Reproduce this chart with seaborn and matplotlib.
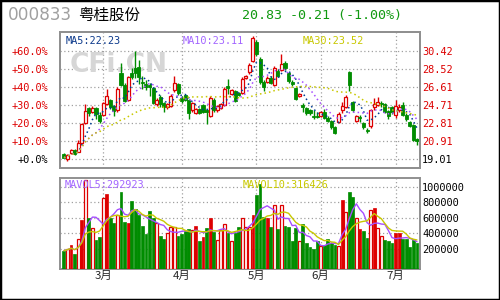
import numpy as np
import pandas as pd
import matplotlib
matplotlib.use('Agg')
import matplotlib.pyplot as plt
import seaborn as sns
from matplotlib.patches import Rectangle

sns.set_theme(style='white')
plt.rcParams['font.family'] = ['DejaVu Sans', 'Noto Sans CJK SC']

# ---------------- data ----------------
stock_code = '000833'
stock_name = '粤桂股份'
quote_text = '20.83 -0.21 (-1.00%)'
ma_texts = ['MA5:22.23', 'MA10:23.11', 'MA30:23.52']
vol_texts = ['MAVOL5:292923', 'MAVOL10:316426']
base_price = 19.01
pct_ticks = [0, 10, 20, 30, 40, 50, 60]
vol_ticks = [200000, 400000, 600000, 800000, 1000000]
month_names = ['3月', '4月', '5月', '6月', '7月']
month_days = [11, 22, 21, 18, 21, 7]

opens = [19.54, 19.01, 19.64, 19.96, 19.75, 20.70, 22.81, 24.40, 23.97, 24.40,
         23.66, 23.66, 24.82, 25.24, 24.61, 24.18, 28.09, 26.83, 25.24, 28.09,
         28.62, 28.73, 27.14, 26.93, 26.83, 26.51, 24.82, 25.56, 24.92, 24.50,
         24.61, 26.30, 26.93, 25.45, 25.77, 25.24, 24.18, 23.87, 24.29, 24.71,
         24.18, 23.55, 25.24, 24.18, 24.40, 24.71, 26.72, 25.87, 26.19, 25.98,
         25.98, 27.56, 28.20, 29.36, 31.37, 29.57, 27.14, 27.14, 27.56, 26.83,
         28.30, 28.41, 29.15, 28.09, 27.14, 26.51, 25.66, 24.71, 24.40, 24.18,
         23.55, 23.55, 23.55, 23.97, 23.34, 23.02, 22.39, 22.92, 24.18, 24.50,
         28.20, 25.03, 23.02, 23.45, 22.81, 22.07, 22.49, 24.50, 24.71, 24.92,
         24.82, 24.08, 24.50, 23.66, 24.18, 24.71, 23.66, 22.92, 22.60, 21.10]
closes = [19.12, 19.43, 19.90, 19.54, 20.70, 22.70, 24.08, 23.87, 24.40, 23.76,
          23.02, 24.92, 25.66, 24.50, 24.08, 26.40, 26.83, 25.14, 27.67, 27.67,
          28.09, 27.67, 27.04, 26.61, 26.61, 24.92, 25.24, 24.82, 24.50, 24.82,
          25.66, 27.04, 25.98, 25.14, 25.24, 23.87, 24.92, 24.29, 23.87, 23.97,
          23.97, 25.45, 24.18, 24.61, 24.82, 26.40, 26.51, 26.30, 25.14, 25.77,
          27.46, 27.78, 28.94, 31.79, 30.10, 27.14, 26.61, 27.56, 27.04, 28.62,
          27.78, 29.04, 28.62, 27.25, 26.93, 25.35, 25.87, 24.50, 23.87, 23.87,
          23.45, 23.45, 23.97, 23.34, 23.02, 22.39, 21.76, 23.76, 24.61, 25.56,
          26.83, 24.18, 23.55, 23.34, 22.39, 21.97, 24.18, 24.82, 25.03, 24.82,
          24.00, 23.50, 23.90, 24.60, 24.50, 23.66, 23.20, 22.50, 21.04, 20.83]
highs = [19.62, 19.50, 20.00, 20.05, 21.00, 22.80, 24.80, 24.50, 24.60, 24.50,
         23.90, 25.00, 26.40, 25.30, 24.70, 26.60, 29.15, 27.00, 27.80, 28.60,
         30.42, 29.40, 27.80, 27.30, 27.00, 26.60, 25.40, 25.70, 25.00, 24.90,
         25.80, 27.70, 27.00, 25.60, 25.90, 25.30, 25.00, 24.40, 24.40, 24.80,
         24.30, 25.60, 25.40, 24.70, 24.90, 26.60, 27.40, 26.40, 26.30, 26.10,
         27.60, 27.90, 29.10, 32.00, 31.60, 29.80, 27.30, 27.70, 27.70, 28.80,
         28.50, 30.10, 29.30, 28.20, 27.30, 26.60, 26.00, 24.90, 24.50, 24.30,
         24.20, 24.00, 24.10, 24.30, 23.50, 23.10, 22.50, 23.90, 25.00, 25.70,
         28.30, 25.10, 23.60, 23.60, 22.90, 22.30, 24.30, 25.40, 25.50, 25.10,
         24.90, 24.20, 24.60, 25.20, 24.80, 25.00, 23.80, 23.00, 22.70, 21.20]
lows = [19.05, 18.80, 19.55, 19.45, 19.70, 20.60, 22.70, 23.50, 23.80, 23.20,
        22.80, 23.50, 24.70, 24.30, 23.50, 24.00, 26.70, 25.00, 25.10, 27.40,
        27.50, 26.90, 26.40, 26.30, 25.60, 24.80, 24.60, 24.50, 24.00, 24.30,
        24.50, 26.10, 25.70, 24.90, 25.10, 23.23, 24.00, 23.70, 23.70, 23.80,
        22.71, 23.40, 24.00, 24.00, 24.30, 24.60, 25.90, 25.70, 25.00, 25.60,
        25.90, 27.40, 28.00, 29.20, 29.90, 26.90, 26.20, 27.00, 26.90, 26.70,
        27.60, 28.30, 28.40, 27.00, 26.70, 25.20, 25.50, 24.00, 23.60, 23.60,
        23.20, 23.30, 23.40, 23.20, 22.90, 22.20, 21.60, 22.80, 23.80, 24.40,
        26.20, 24.00, 22.90, 22.90, 22.20, 21.70, 22.30, 24.20, 24.60, 24.50,
        23.80, 23.20, 23.70, 23.30, 24.00, 23.50, 23.00, 22.40, 20.90, 20.50]
volumes = [175, 200, 242, 133, 327, 568, 1080, 593, 471, 314,
           357, 852, 907, 598, 526, 632, 928, 547, 526, 810,
           716, 640, 496, 386, 683, 598, 526, 369, 327, 399,
           483, 483, 369, 386, 428, 450, 441, 496, 301, 357,
           471, 598, 420, 314, 441, 513, 399, 293, 407, 483,
           590, 483, 483, 632, 894, 1034, 610, 598, 483, 759,
           454, 759, 496, 483, 301, 471, 293, 513, 272, 217,
           200, 293, 230, 251, 327, 272, 251, 230, 822, 674,
           937, 865, 598, 454, 428, 335, 695, 725, 471, 365,
           314, 293, 272, 400, 400, 327, 320, 220, 314, 270]  # thousand shares
vol_kind = ('ghfghfhghgghfgghggfggggggghgghhhgggghfgfgfghhhghgg'
            'hhhfgggfghghgggghggggghgggghfhgghfgghfhhgggffggggg')

# ---------------- derived ----------------
n = len(closes)
df = pd.DataFrame({'i': np.arange(n), 'open': opens, 'close': closes,
                   'high': highs, 'low': lows,
                   'vol': np.array(volumes) * 1000.0, 'kind': list(vol_kind)})
for w in (5, 10, 30):
    df[f'ma{w}'] = df['close'].rolling(w, min_periods=1).mean()
for w in (5, 10):
    df[f'mv{w}'] = df['vol'].rolling(w, min_periods=1).mean()
month_starts = list(np.cumsum(month_days)[:-1])

RED = '#dd0000'
GREEN = '#008c00'
GRID = '#a0a0a0'
SPINE = '#909090'
DOT = (0, (1, 2))

fig = plt.figure(figsize=(5, 3), dpi=100)
fig.patch.set_facecolor('white')
ax = fig.add_axes([0.12, 0.441, 0.72, 0.4533])
axv = fig.add_axes([0.12, 0.1033, 0.72, 0.3023])

xlim = (-1.1, n - 0.15)

# ---- price panel ----
bw = 0.86
for r in df.itertuples():
    lo_b, hi_b = min(r.open, r.close), max(r.open, r.close)
    h = max(hi_b - lo_b, 0.04)
    if r.close > r.open:
        ax.vlines(r.i, r.low, lo_b, color=RED, lw=1, zorder=3)
        ax.vlines(r.i, hi_b, r.high, color=RED, lw=1, zorder=3)
        ax.add_patch(Rectangle((r.i - bw / 2, lo_b), bw, h, facecolor='white',
                               edgecolor=RED, lw=0.9, zorder=4))
    else:
        ax.vlines(r.i, r.low, r.high, color=GREEN, lw=1, zorder=3)
        ax.add_patch(Rectangle((r.i - bw / 2, lo_b), bw, h, facecolor=GREEN,
                               edgecolor=GREEN, lw=0.6, zorder=4))

sns.lineplot(data=df, x='i', y='ma5', ax=ax, color='#003c96', lw=1.1,
             linestyle=DOT, legend=False, zorder=5)
sns.lineplot(data=df, x='i', y='ma10', ax=ax, color='#a64dff', lw=1.1,
             linestyle=DOT, legend=False, zorder=5)
sns.lineplot(data=df, x='i', y='ma30', ax=ax, color='#c8c800', lw=1.1,
             linestyle=DOT, legend=False, zorder=5)

ticks = [round(base_price * (1 + p / 100), 2) for p in pct_ticks]
step = ticks[1] - ticks[0]
ax.set_xlim(*xlim)
ax.set_ylim(base_price - 0.5 * step, ticks[-1] + 1.06 * step)
ax.set_yticks(ticks)
ax.set_yticklabels([f'+{p:.1f}%' for p in pct_ticks], family='DejaVu Sans Mono',
                   fontsize=7.4)
for lab, p in zip(ax.get_yticklabels(), pct_ticks):
    lab.set_color('black' if p == 0 else RED)
ax.tick_params(axis='y', length=0, pad=8.5)
ax.set_xticks(month_starts)
ax.tick_params(axis='x', length=0, labelbottom=False)
ax.grid(True, color=GRID, linestyle=DOT, lw=0.9)
ax.set_xlabel('')
ax.set_ylabel('')

ax2 = ax.twinx()
ax2.set_ylim(ax.get_ylim())
ax2.set_yticks(ticks)
ax2.set_yticklabels([f'{t:.2f}' for t in ticks], family='DejaVu Sans Mono',
                    fontsize=7.4)
for lab, t in zip(ax2.get_yticklabels(), ticks):
    lab.set_color('black' if t == ticks[0] else RED)
ax2.tick_params(axis='y', length=0, pad=1.5)
ax2.grid(False)

# ---- volume panel ----
vb = -62000
for r in df.itertuples():
    if r.kind == 'g':
        axv.bar(r.i, r.vol - vb, bottom=vb, width=0.8, color=GREEN,
                edgecolor=GREEN, lw=0.5, zorder=3)
    elif r.kind == 'f':
        axv.bar(r.i, r.vol - vb, bottom=vb, width=0.8, color=RED,
                edgecolor=RED, lw=0.5, zorder=3)
    else:
        axv.bar(r.i, r.vol - vb, bottom=vb, width=0.8, color='white',
                edgecolor=RED, lw=0.9, zorder=3)
sns.lineplot(data=df, x='i', y='mv5', ax=axv, color='#a64dff', lw=1.0,
             legend=False, zorder=5)
sns.lineplot(data=df, x='i', y='mv10', ax=axv, color='#c8c800', lw=1.0,
             legend=False, zorder=5)
axv.set_xlim(*xlim)
axv.set_ylim(vb, 1108000)
axv.set_yticks(vol_ticks)
axv.yaxis.tick_right()
axv.set_yticklabels([str(v) for v in vol_ticks], family='DejaVu Sans Mono',
                    fontsize=7.4, color='black')
axv.tick_params(axis='y', length=0, pad=1.5)
axv.set_xticks(month_starts)
axv.set_xticklabels(month_names, family=['Noto Sans CJK SC'], fontsize=8.2)
axv.tick_params(axis='x', length=0, pad=1.0)
axv.grid(True, color=GRID, linestyle=DOT, lw=0.9)
axv.set_xlabel('')
axv.set_ylabel('')

for a in (ax, ax2, axv):
    for s in a.spines.values():
        s.set_color(SPINE)
        s.set_linewidth(1.4)

# ---- texts ----
def fx(x):
    return x / 500.0

def fy(y):
    return 1 - y / 300.0

fig.text(fx(8), fy(15.5), stock_code, color='#a0a0a0', fontsize=12.2,
         family='DejaVu Sans', va='center', ha='left')
fig.text(fx(78), fy(15.5), stock_name, color='black', fontsize=11.2,
         family=['Noto Sans CJK SC'], va='center', ha='left')
fig.text(fx(242), fy(15.5), quote_text, color='#119911', fontsize=9.6,
         family='DejaVu Sans Mono', va='center', ha='left')

ax.text(fx(70), fy(65), 'CFi.CN', transform=fig.transFigure, color='#d6d6d6',
        fontsize=19, fontweight='bold', family='DejaVu Sans', va='center',
        ha='left', zorder=1)

for txt, x, c in zip(ma_texts, (66, 183, 303), ('#0d3a8c', '#a366ff', '#c8c800')):
    fig.text(fx(x), fy(41), txt, color=c, fontsize=7.4,
             family='DejaVu Sans Mono', va='center', ha='left')
for txt, x, c in zip(vol_texts, (65, 243), ('#a366ff', '#c8c800')):
    fig.text(fx(x), fy(185), txt, color=c, fontsize=7.4,
             family='DejaVu Sans Mono', va='center', ha='left', zorder=10)

fig.add_artist(Rectangle((0, 0), 1, 1, transform=fig.transFigure, fill=False,
                         ec='black', lw=2.5))

fig.savefig('out.png', dpi=100, facecolor='white')
